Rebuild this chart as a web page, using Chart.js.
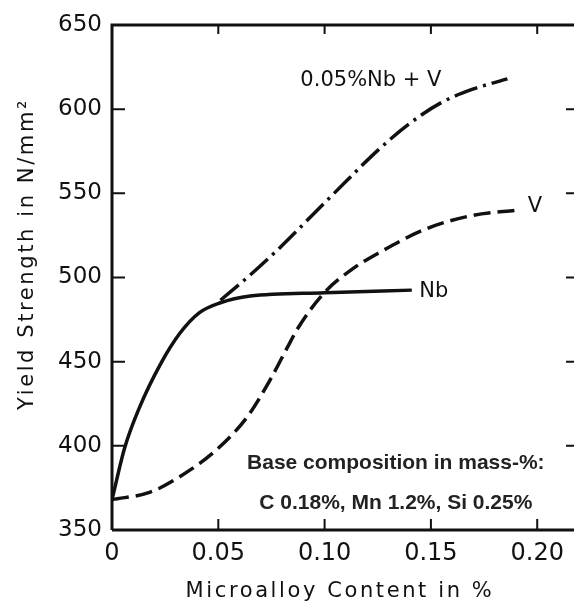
<!DOCTYPE html>
<html>
<head>
<meta charset="utf-8">
<script src="https://cdn.jsdelivr.net/npm/chart.js@4.4.1/dist/chart.umd.min.js"></script>
<style>
    html, body { margin: 0; padding: 0; background: #fff; overflow: hidden; }
    #wrap { width: 574px; height: 605px; }
</style>
</head>
<body>
<div id="wrap"><canvas id="yieldChart" width="574" height="605"></canvas></div>
<script>
// Dados (teor de microliga em %, limite de escoamento em N/mm2)
const nbX = [0, 0.006, 0.013, 0.023, 0.032, 0.041, 0.051, 0.065, 0.100, 0.141];
const nbY = [368, 399, 423, 449, 467, 479, 485, 489, 491, 492.5];

const vX = [0, 0.018, 0.031, 0.049, 0.0635, 0.0743, 0.0823, 0.0875, 0.0995, 0.113, 0.126, 0.148, 0.170, 0.191];
const vY = [368, 372.5, 381, 397.5, 417, 439, 458, 470, 490.5, 505, 515, 529, 537, 540];

const nbvX = [0.051, 0.065, 0.080, 0.095, 0.110, 0.125, 0.140, 0.155, 0.170, 0.186];
const nbvY = [486.5, 501.5, 519, 538, 557, 575.5, 591.5, 604, 612, 618];

const xTicks = [0, 0.05, 0.10, 0.15, 0.20];
const yTicks = [350, 400, 450, 500, 550, 600, 650];

const seriesLabels = ['Nb', 'V', '0.05%Nb + V'];
const noteLines = ['Base composition in mass-%:', 'C 0.18%, Mn 1.2%, Si 0.25%'];

const plotFont = '"DejaVu Sans", sans-serif';

function toPoints(xs, ys) {
    return xs.map((x, i) => ({ x: x, y: ys[i] }));
}

function setSpacing(ctx, value) {
    if ('letterSpacing' in ctx) ctx.letterSpacing = value;
}

// Moldura e marcas de escala voltadas para dentro
const framePlugin = {
    id: 'frame',
    afterDraw(chart) {
        const { ctx, chartArea: a, scales: { x, y } } = chart;
        ctx.save();
        ctx.strokeStyle = '#111';
        ctx.lineWidth = 3;
        ctx.beginPath();
        ctx.moveTo(a.left, a.bottom);
        ctx.lineTo(a.left, a.top);
        ctx.lineTo(a.right, a.top);
        ctx.moveTo(a.left, a.bottom);
        ctx.lineTo(a.right, a.bottom);
        ctx.stroke();

        ctx.lineWidth = 2;
        ctx.beginPath();
        xTicks.slice(1).forEach(v => {
            const px = x.getPixelForValue(v);
            ctx.moveTo(px, a.bottom);
            ctx.lineTo(px, a.bottom - 11);
            ctx.moveTo(px, a.top);
            ctx.lineTo(px, a.top + 9);
        });
        yTicks.slice(1, -1).forEach(v => {
            const py = y.getPixelForValue(v);
            ctx.moveTo(a.left, py);
            ctx.lineTo(a.left + 13, py);
            ctx.moveTo(a.right, py);
            ctx.lineTo(a.right - 8, py);
        });
        ctx.stroke();
        ctx.restore();
    }
};

// Rótulos das curvas, títulos dos eixos e nota da composição
const labelPlugin = {
    id: 'curveLabels',
    afterDraw(chart) {
        const { ctx, scales: { x, y } } = chart;
        ctx.save();
        ctx.fillStyle = '#111';
        ctx.textBaseline = 'middle';
        ctx.textAlign = 'left';
        setSpacing(ctx, '0px');
        ctx.font = '21px ' + plotFont;
        ctx.fillText(seriesLabels[2], x.getPixelForValue(0.0886), y.getPixelForValue(617));
        ctx.fillText(seriesLabels[1], x.getPixelForValue(0.1955), y.getPixelForValue(542));
        ctx.fillText(seriesLabels[0], x.getPixelForValue(0.1445), y.getPixelForValue(491.5));

        // títulos dos eixos com letras espaçadas
        setSpacing(ctx, '2.6px');
        ctx.textAlign = 'center';
        ctx.font = '21px ' + plotFont;
        ctx.fillText('Microalloy Content in %', 340, 592);
        ctx.save();
        ctx.translate(28, 254);
        ctx.rotate(-Math.PI / 2);
        ctx.fillText('Yield Strength in N/mm²', 0, 0);
        ctx.restore();

        setSpacing(ctx, '0px');
        ctx.fillStyle = '#222';
        ctx.font = 'bold 21px "Liberation Sans", Arial, sans-serif';
        ctx.fillText(noteLines[0], x.getPixelForValue(0.1335), y.getPixelForValue(389.5));
        ctx.fillText(noteLines[1], x.getPixelForValue(0.1335), y.getPixelForValue(366));
        ctx.restore();
    }
};

document.addEventListener('DOMContentLoaded', () => {
    const canvas = document.getElementById('yieldChart');

    new Chart(canvas.getContext('2d'), {
        type: 'scatter',
        data: {
            datasets: [
                {
                    label: seriesLabels[0],
                    data: toPoints(nbX, nbY),
                    showLine: true,
                    borderColor: '#111',
                    borderWidth: 3.5,
                    pointRadius: 0,
                    cubicInterpolationMode: 'monotone'
                },
                {
                    label: seriesLabels[1],
                    data: toPoints(vX, vY),
                    showLine: true,
                    borderColor: '#111',
                    borderWidth: 3.5,
                    borderDash: [17, 7],
                    pointRadius: 0,
                    cubicInterpolationMode: 'monotone'
                },
                {
                    label: seriesLabels[2],
                    data: toPoints(nbvX, nbvY),
                    showLine: true,
                    borderColor: '#111',
                    borderWidth: 3.5,
                    borderDash: [24, 6, 3, 6],
                    pointRadius: 0,
                    cubicInterpolationMode: 'monotone'
                }
            ]
        },
        options: {
            responsive: false,
            animation: false,
            layout: { padding: { top: 25, right: 0, left: 0, bottom: 0 } },
            plugins: {
                legend: { display: false },
                tooltip: { enabled: false }
            },
            scales: {
                x: {
                    type: 'linear',
                    min: 0,
                    max: 0.2173,
                    afterFit: scale => { scale.height = 75; },
                    afterBuildTicks: scale => { scale.ticks = xTicks.map(v => ({ value: v })); },
                    border: { display: false },
                    grid: { display: false, drawTicks: false },
                    ticks: {
                        padding: 9,
                        color: '#111',
                        font: { family: plotFont, size: 24 },
                        callback: v => (v === 0 ? '0' : v.toFixed(2))
                    }
                },
                y: {
                    type: 'linear',
                    min: 350,
                    max: 650,
                    afterFit: scale => { scale.width = 112; },
                    afterBuildTicks: scale => { scale.ticks = yTicks.map(v => ({ value: v })); },
                    border: { display: false },
                    grid: { display: false, drawTicks: false },
                    ticks: {
                        padding: 10,
                        color: '#111',
                        font: { family: plotFont, size: 23 }
                    }
                }
            }
        },
        plugins: [framePlugin, labelPlugin]
    });
});
</script>
</body>
</html>
